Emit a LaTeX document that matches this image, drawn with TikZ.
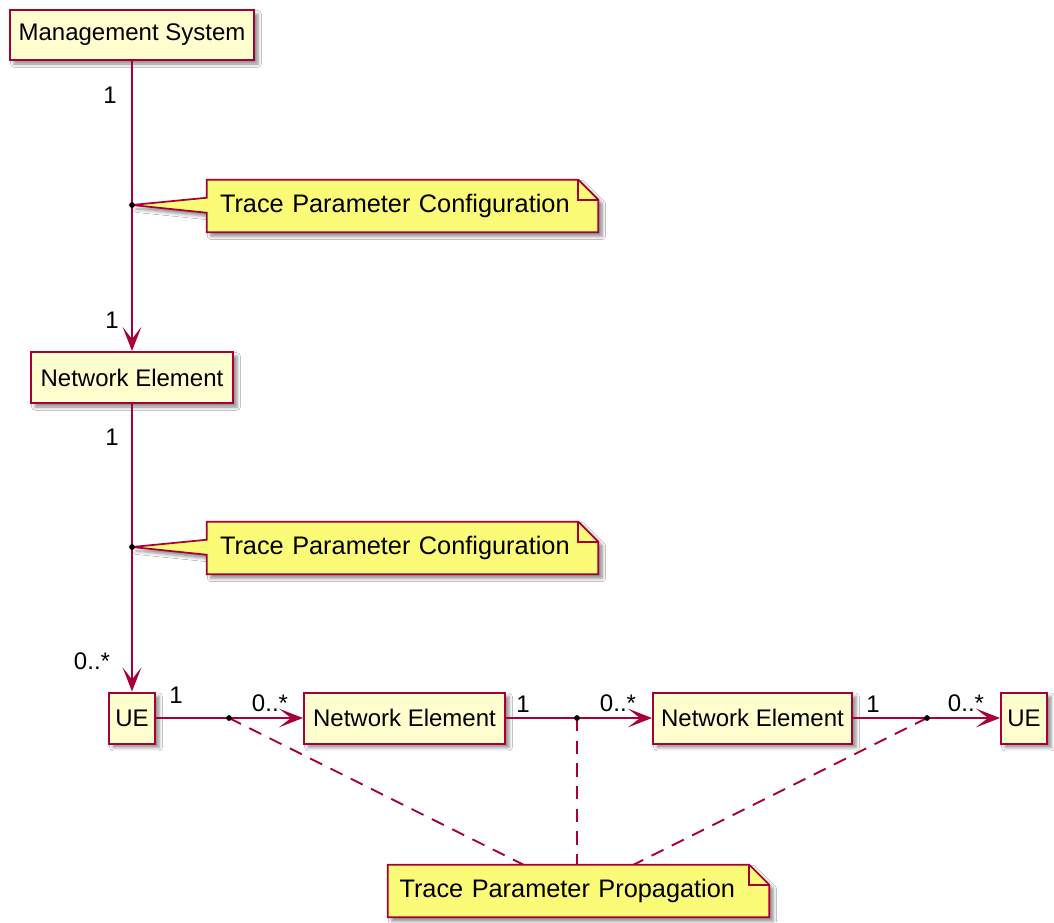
\documentclass[tikz,border=0pt]{standalone}
\usepackage{fontspec}
\setmainfont{Liberation Sans}
\usetikzlibrary{arrows.meta, calc, shadows.blur}
\definecolor{umlred}{HTML}{A80036}
\definecolor{umlclass}{HTML}{FEFECE}
\definecolor{umlnote}{HTML}{FBFB77}
\tikzstyle{shade} = [blur shadow={shadow xshift=3pt, shadow yshift=-3pt, shadow blur radius=2.5pt, shadow opacity=45}]
\tikzstyle{classbox} = [rectangle, minimum height=38.25pt, inner xsep=2pt, text centered, draw=umlred, line width=1.5pt, fill=umlclass, shade, font=\fontsize{18}{22}\selectfont]
\tikzstyle{notebox} = [rectangle, minimum height=39pt, align=left, font=\fontsize{19}{23}\selectfont]
\tikzstyle{noteline} = [draw=umlred, line width=1.3pt, fill=umlnote, line join=miter]
\tikzstyle{arrow} = [draw=umlred, line width=1.5pt, -{Stealth[length=18pt, width=14pt, inset=9pt]}]
\tikzstyle{link} = [draw=umlred, line width=1.4pt, dash pattern=on 10pt off 7pt]
\tikzstyle{dot} = [circle, fill=black, inner sep=0pt, minimum size=4.3pt]
\tikzstyle{mult} = [inner sep=0pt, font=\fontsize{18}{22}\selectfont]

\begin{document}
\begin{tikzpicture}[x=0.75pt, y=-0.75pt]
\useasboundingbox[fill=white] (0,0) rectangle (1054,922);

% classes
\node (ms) [classbox, minimum width=183pt, minimum height=37.5pt] at (132,35) {Management System};
\node (ne1) [classbox, minimum width=151.5pt] at (132,377.5) {Network Element};
\node (ue1) [classbox, minimum width=34.5pt] at (132,718) {UE};
\node (ne2) [classbox, minimum width=150.75pt] at (404.5,718) {Network Element};
\node (ne3) [classbox, minimum width=149.25pt] at (752.5,718) {Network Element};
\node (ue2) [classbox, minimum width=34.5pt] at (1024,718) {UE};

% dots on the links
\coordinate (d1) at (132,205);
\coordinate (d2) at (132,547);
\coordinate (d3) at (229,718);
\coordinate (d4) at (577,718);
\coordinate (d5) at (927,718);

% links
\draw [arrow] (ms.south) -- (ne1.north);
\draw [arrow] (ne1.south) -- (ue1.north);
\draw [arrow] (ue1.east) -- (ne2.west);
\draw [arrow] (ne2.east) -- (ne3.west);
\draw [arrow] (ne3.east) -- (ue2.west);

% multiplicities
\node (m1) [mult] at (110,95) {1};
\node (m2) [mult] at (112,320) {1};
\node (m3) [mult] at (112,437) {1};
\node (m4) [mult] at (92,661) {0..*};
\node (m5) [mult] at (176,695) {1};
\node (m6) [mult] at (270,703) {0..*};
\node (m7) [mult] at (523,704) {1};
\node (m8) [mult] at (618,703) {0..*};
\node (m9) [mult] at (873,704) {1};
\node (m10) [mult] at (966,703) {0..*};

% notes
\node (n1) [notebox, inner xsep=9.75pt, text width=273.75pt] at (402.5,206) {};
\node (n2) [notebox, inner xsep=9.75pt, text width=273.75pt] at (402.5,548) {};
\node (n3) [notebox, inner xsep=8.6pt, text width=268.5pt] at (578.5,891) {};

\draw [link] (d3) -- ($(n3.north)+(-55,0)$);
\draw [link] (d4) -- (d4 |- n3.north);
\draw [link] (d5) -- ($(n3.north)+(55,0)$);

\path [noteline, shade] (d1) -- ($(n1.north west)+(0,18)$) -- (n1.north west) -- ($(n1.north east)+(-20,0)$) -- ($(n1.north east)+(0,20)$) -- (n1.south east) -- (n1.south west) -- ($(n1.north west)+(0,33)$) -- cycle;
\draw [noteline, fill=none] ($(n1.north east)+(-20,0)$) -- ($(n1.north east)+(-20,20)$) -- ($(n1.north east)+(0,20)$);
\node [notebox, inner xsep=9.75pt, text width=273.75pt] at (n1) {Trace Parameter Configuration};

\path [noteline, shade] (d2) -- ($(n2.north west)+(0,18)$) -- (n2.north west) -- ($(n2.north east)+(-20,0)$) -- ($(n2.north east)+(0,20)$) -- (n2.south east) -- (n2.south west) -- ($(n2.north west)+(0,33)$) -- cycle;
\draw [noteline, fill=none] ($(n2.north east)+(-20,0)$) -- ($(n2.north east)+(-20,20)$) -- ($(n2.north east)+(0,20)$);
\node [notebox, inner xsep=9.75pt, text width=273.75pt] at (n2) {Trace Parameter Configuration};

\path [noteline, shade] (n3.north west) -- ($(n3.north east)+(-20,0)$) -- ($(n3.north east)+(0,20)$) -- (n3.south east) -- (n3.south west) -- cycle;
\draw [noteline, fill=none] ($(n3.north east)+(-20,0)$) -- ($(n3.north east)+(-20,20)$) -- ($(n3.north east)+(0,20)$);
\node [notebox, inner xsep=8.6pt, text width=268.5pt] at (n3) {Trace Parameter Propagation};

\foreach \d in {d1,d2,d3,d4,d5}
  \node [dot] at (\d) {};

\end{tikzpicture}
\end{document}
